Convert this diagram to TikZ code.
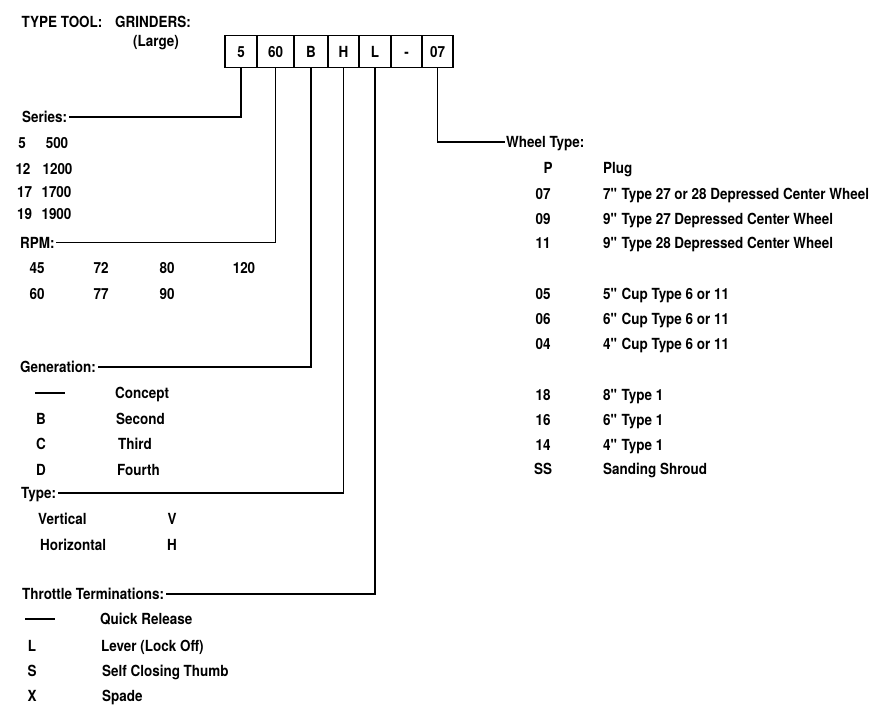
\documentclass[tikz,border=0pt]{standalone}
\usepackage{fontspec}
\setmainfont[FakeStretch=0.88]{TeX Gyre Heros}
\usetikzlibrary{positioning}

\begin{document}
\begin{tikzpicture}[x=1pt, y=-1pt,
    every node/.style={font=\fontsize{15.3}{17}\selectfont\bfseries, inner sep=1.5pt, text height=11pt, text depth=0pt},
    lbl/.style={anchor=west},
    codebox/.style={draw, line width=1.2pt, minimum height=32pt, inner sep=0pt},
    leader/.style={line width=1.2pt}]
        \useasboundingbox (0,0) rectangle (879,705);
        % Heading
        \node[lbl] (tt) at (20,21.5) {TYPE TOOL:};
        \node[lbl] (gr) at (113.5,21.5) {GRINDERS:};
        \node[lbl] (lg) at (131.5,40.5) {(Large)};

        % Code boxes
        \node[codebox, minimum width=32pt] (b5) at (241,51.5) {5};
        \node[codebox, minimum width=37pt] (b60) at (275.5,51.5) {60};
        \node[codebox, minimum width=34pt] (bB) at (311,51.5) {B};
        \node[codebox, minimum width=31pt] (bH) at (343.5,51.5) {H};
        \node[codebox, minimum width=32pt] (bL) at (375,51.5) {L};
        \node[codebox, minimum width=31pt] (bd) at (406.5,51.5) {-};
        \node[codebox, minimum width=31pt] (b07) at (437.5,51.5) {07};

        % Series
        \node[lbl] (series) at (20.5,117) {Series:};
        \draw[leader] (b5.south) |- (series.east);
        \node (s5) at (22,143) {5};      \node (s500) at (57,143) {500};
        \node (s12) at (23,169) {12};    \node (s1200) at (57.5,169) {1200};
        \node (s17) at (24.5,192) {17};  \node (s1700) at (56.5,192) {1700};
        \node (s19) at (24.5,214) {19};  \node (s1900) at (56.5,214) {1900};

        % RPM
        \node[lbl] (rpm) at (18.5,242.7) {RPM:};
        \draw[leader] (b60.south) |- (rpm.east);
        \node (r45) at (37,268) {45};  \node (r72) at (101,268) {72};
        \node (r80) at (167,268) {80}; \node (r120) at (244,268) {120};
        \node (r60) at (37,294) {60};  \node (r77) at (101,294) {77};
        \node (r90) at (167,294) {90};

        % Generation
        \node[lbl] (gen) at (18.5,367) {Generation:};
        \draw[leader] (bB.south) |- (gen.east);
        \node (gdash) at (50,393) {\rule[4.8pt]{30pt}{1.3pt}};
        \node[lbl] (gcon) at (113.5,393) {Concept};
        \node (gB) at (41,419) {B};  \node[lbl] (gsec) at (114.5,419) {Second};
        \node (gC) at (41,444) {C};  \node[lbl] (gthi) at (116.5,444) {Third};
        \node (gD) at (41,470) {D};  \node[lbl] (gfou) at (115.5,470) {Fourth};

        % Type
        \node[lbl] (type) at (19.5,493) {Type:};
        \draw[leader] (bH.south) |- (type.east);
        \node[lbl] (tver) at (36.5,519) {Vertical};   \node (tV) at (172,519) {V};
        \node[lbl] (thor) at (38.5,545) {Horizontal}; \node (tH) at (172,545) {H};

        % Throttle terminations
        \node[lbl] (thr) at (20.5,594) {Throttle Terminations:};
        \draw[leader] (bL.south) |- (thr.east);
        \node (qdash) at (40,619) {\rule[4.8pt]{30pt}{1.3pt}};
        \node[lbl] (qrel) at (98.5,619) {Quick Release};
        \node (tL) at (32,646) {L}; \node[lbl] (tlev) at (99.5,646) {Lever (Lock Off)};
        \node (tS) at (32,671) {S}; \node[lbl] (tsel) at (100.5,671) {Self Closing Thumb};
        \node (tX) at (32,696) {X}; \node[lbl] (tspa) at (100.5,696) {Spade};

        % Wheel type
        \node[lbl] (wheel) at (504.5,142) {Wheel Type:};
        \draw[leader] (b07.south) |- (wheel.west);
        \node (wP) at (548,168) {P};    \node[lbl] (dP) at (601.5,168) {Plug};
        \node (w07) at (543,194) {07};  \node[lbl] (d07) at (601.5,194) {7\textquotedbl\ Type 27 or 28 Depressed Center Wheel};
        \node (w09) at (543,219) {09};  \node[lbl] (d09) at (601.5,219) {9\textquotedbl\ Type 27 Depressed Center Wheel};
        \node (w11) at (543,243) {11};  \node[lbl] (d11) at (601.5,243) {9\textquotedbl\ Type 28 Depressed Center Wheel};
        \node (w05) at (543,294) {05};  \node[lbl] (d05) at (601.5,294) {5\textquotedbl\ Cup Type 6 or 11};
        \node (w06) at (543,319) {06};  \node[lbl] (d06) at (601.5,319) {6\textquotedbl\ Cup Type 6 or 11};
        \node (w04) at (543,344) {04};  \node[lbl] (d04) at (601.5,344) {4\textquotedbl\ Cup Type 6 or 11};
        \node (w18) at (543,395) {18};  \node[lbl] (d18) at (601.5,395) {8\textquotedbl\ Type 1};
        \node (w16) at (543,420) {16};  \node[lbl] (d16) at (601.5,420) {6\textquotedbl\ Type 1};
        \node (w14) at (543,445) {14};  \node[lbl] (d14) at (601.5,445) {4\textquotedbl\ Type 1};
        \node (wSS) at (543,469) {SS};  \node[lbl] (dSS) at (601.5,469) {Sanding Shroud};
    \end{tikzpicture}
\end{document}
